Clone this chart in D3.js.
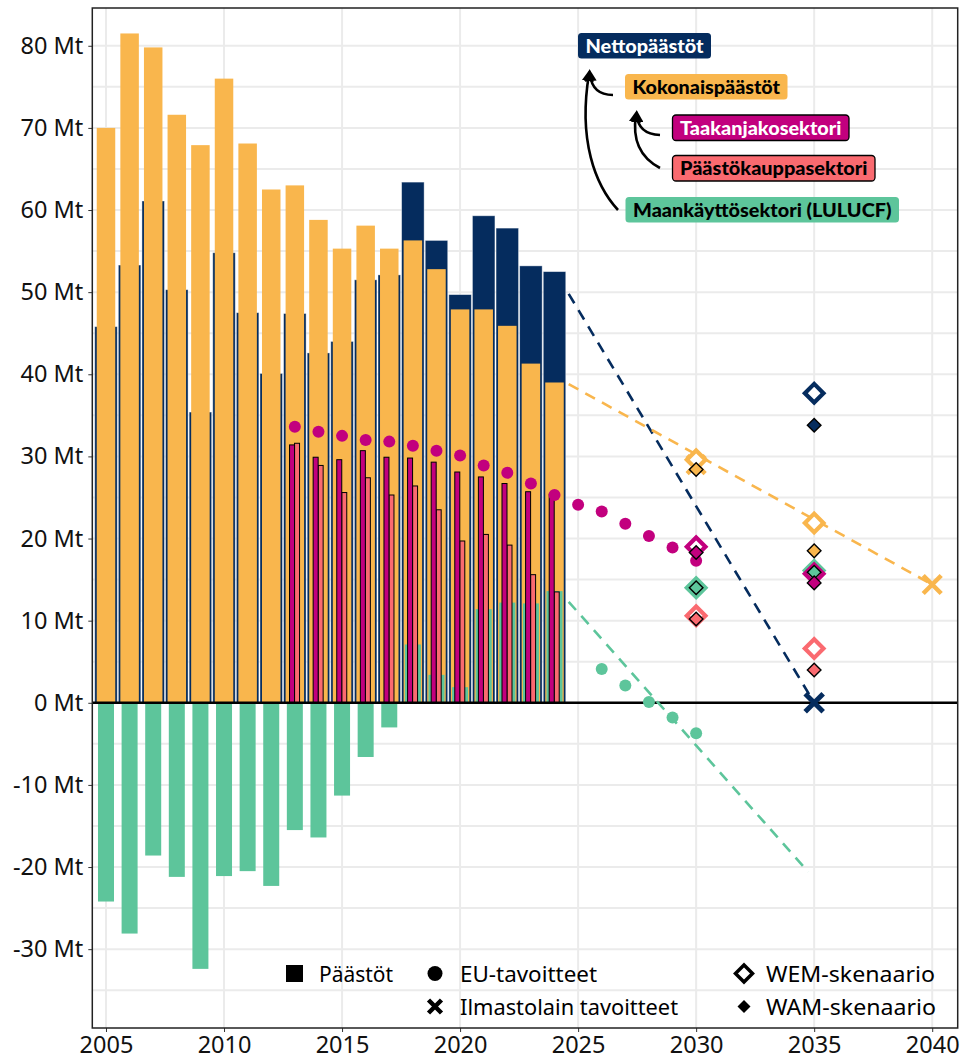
<!DOCTYPE html>
<html>
<head>
<meta charset="utf-8">
<script src="https://cdn.jsdelivr.net/npm/d3@7"></script>
<style>
  body { margin: 0; background: #fff; }
  text { font-family: "Noto Sans", "Open Sans", sans-serif; }
</style>
</head>
<body>
<div id="container"></div>
<script>
const WIDTH = 966;
const HEIGHT = 1060;
const PANEL = { LEFT: 92.3, RIGHT: 957.7, TOP: 8, BOTTOM: 1028 };

const NAVY = '#052c5e';
const ORANGE = '#f9b64d';
const MAGENTA = '#c2007e';
const SALMON = '#fa6a70';
const TEAL = '#5dc59b';

// historia
const YEARS = [2005, 2006, 2007, 2008, 2009, 2010, 2011, 2012, 2013, 2014,
               2015, 2016, 2017, 2018, 2019, 2020, 2021, 2022, 2023, 2024];
const TOTAL = [70.0, 81.5, 79.8, 71.6, 67.9, 76.0, 68.1, 62.5, 63.0, 58.8,
               55.3, 58.1, 55.3, 56.3, 52.8, 47.9, 47.9, 45.9, 41.3, 39.0];
const NET = [45.8, 53.3, 61.1, 50.3, 35.4, 54.8, 47.5, 40.1, 47.4, 42.6,
             44.0, 51.5, 52.1, 63.4, 56.3, 49.7, 59.3, 57.8, 53.2, 52.5];
const LULUCF = [-24.2, -28.1, -18.6, -21.2, -32.4, -21.1, -20.5, -22.3, -15.5, -16.4,
                -11.3, -6.6, -3.0, 7.1, 3.4, 1.9, 11.4, 12.2, 12.1, 13.6];

const SECTOR_YEARS = [2013, 2014, 2015, 2016, 2017, 2018, 2019, 2020, 2021, 2022, 2023, 2024];
const ESD = [31.4, 29.9, 29.6, 30.7, 29.9, 29.8, 29.3, 28.1, 27.5, 26.7, 25.7, 25.4];
const ETS = [31.6, 28.9, 25.6, 27.4, 25.3, 26.4, 23.5, 19.7, 20.5, 19.2, 15.6, 13.5];

// EU-tavoitteet
const ESD_TARGET_YEARS = [2013, 2014, 2015, 2016, 2017, 2018, 2019, 2020, 2021,
                          2022, 2023, 2024, 2025, 2026, 2027, 2028, 2029, 2030];
const ESD_TARGETS = [33.6, 33.0, 32.5, 32.0, 31.8, 31.3, 30.7, 30.1, 28.9,
                     28.0, 26.7, 25.3, 24.1, 23.3, 21.8, 20.3, 18.9, 17.3];
const LULUCF_TARGET_YEARS = [2026, 2027, 2028, 2029, 2030];
const LULUCF_TARGETS = [4.1, 2.1, 0.1, -1.8, -3.7];

// skenaariot
const SCENARIO_YEARS = [2030, 2035];
const WEM_NET = [null, 37.7];
const WEM_TOTAL = [29.6, 21.9];
const WEM_LULUCF = [14.0, 16.1];
const WEM_ESD = [19.0, 15.7];
const WEM_ETS = [10.6, 6.6];
const WAM_NET = [null, 33.8];
const WAM_TOTAL = [28.4, 18.5];
const WAM_LULUCF = [14.0, 15.9];
const WAM_ESD = [18.3, 14.6];
const WAM_ETS = [10.2, 4.0];

// ilmastolain tavoitteet
const LAW_TOTAL_YEARS = [2030, 2040];
const LAW_TOTAL = [29.0, 14.4];
const LAW_NET_YEARS = [2035];
const LAW_NET = [0];

// trendit
const TREND_NET = [[2024.6, 49.8], [2035, 0]];
const TREND_TOTAL = [[2024.6, 38.8], [2040, 14.4]];
const TREND_LULUCF = [[2024.6, 12.3], [2034.75, -20.6]];

const X_TICKS = [2005, 2010, 2015, 2020, 2025, 2030, 2035, 2040];
const Y_TICKS = [-30, -20, -10, 0, 10, 20, 30, 40, 50, 60, 70, 80];
const Y_GRID = [-35, -30, -25, -20, -15, -10, -5, 0, 5, 10, 15, 20, 25, 30, 35,
                40, 45, 50, 55, 60, 65, 70, 75, 80];

const svg = d3.select('#container')
              .append('svg')
                .attr('width', WIDTH)
                .attr('height', HEIGHT);

const xscale = d3.scaleLinear()
                 .domain([2004.42, 2041.08])
                 .range([PANEL.LEFT, PANEL.RIGHT]);
const yscale = d3.scaleLinear()
                 .domain([-39.6, 84.6])
                 .range([PANEL.BOTTOM, PANEL.TOP]);

// ruudukko
const grid = svg.append('g');
grid.selectAll('line.h')
    .data(Y_GRID)
    .enter()
    .append('line')
      .attr('x1', PANEL.LEFT).attr('x2', PANEL.RIGHT)
      .attr('y1', d => yscale(d)).attr('y2', d => yscale(d))
      .attr('stroke', '#ebebeb').attr('stroke-width', 2);
grid.selectAll('line.v')
    .data(X_TICKS)
    .enter()
    .append('line')
      .attr('y1', PANEL.TOP).attr('y2', PANEL.BOTTOM)
      .attr('x1', d => xscale(d)).attr('x2', d => xscale(d))
      .attr('stroke', '#ebebeb').attr('stroke-width', 2);

const hist = YEARS.map((y, i) => ({ year: y, total: TOTAL[i], net: NET[i], lulucf: LULUCF[i] }));
const sectors = SECTOR_YEARS.map((y, i) => ({ year: y, esd: ESD[i], ets: ETS[i] }));

const barRect = (sel, width, key, dx = 0) =>
    sel.attr('x', d => xscale(d.year) - width / 2 + dx)
       .attr('width', width)
       .attr('y', d => yscale(Math.max(0, d[key])))
       .attr('height', d => Math.abs(yscale(d[key]) - yscale(0)));

svg.append('g').selectAll('rect')
   .data(hist).enter().append('rect')
   .call(barRect, 22.5, 'net')
   .attr('fill', NAVY)
   .attr('stroke', '#ffffff').attr('stroke-opacity', 0.5).attr('stroke-width', 0.8);

svg.append('g').selectAll('rect')
   .data(hist).enter().append('rect')
   .call(barRect, 18.5, 'total')
   .attr('fill', ORANGE);

svg.append('g').selectAll('rect')
   .data(hist).enter().append('rect')
   .call(barRect, 16, 'lulucf')
   .attr('fill', TEAL);

svg.append('g').selectAll('rect')
   .data(sectors).enter().append('rect')
   .call(barRect, 5, 'ets', 2.2)
   .attr('fill', SALMON)
   .attr('stroke', '#000').attr('stroke-width', 1);

svg.append('g').selectAll('rect')
   .data(sectors).enter().append('rect')
   .call(barRect, 5, 'esd', -2.8)
   .attr('fill', MAGENTA)
   .attr('stroke', '#000').attr('stroke-width', 1);

// nollaviiva
svg.append('line')
   .attr('x1', PANEL.LEFT).attr('x2', PANEL.RIGHT)
   .attr('y1', yscale(0)).attr('y2', yscale(0))
   .attr('stroke', '#000').attr('stroke-width', 2.5);

// trendit
const line = d3.line().x(d => xscale(d[0])).y(d => yscale(d[1]));
[[TREND_NET, NAVY], [TREND_TOTAL, ORANGE], [TREND_LULUCF, TEAL]].forEach(([pts, col]) => {
    svg.append('path')
       .attr('d', line(pts))
       .attr('fill', 'none')
       .attr('stroke', col)
       .attr('stroke-width', 2.6)
       .attr('stroke-dasharray', '11 8');
});

// EU-tavoitteet
svg.append('g').selectAll('circle')
   .data(ESD_TARGET_YEARS.map((y, i) => [y, ESD_TARGETS[i]]))
   .enter().append('circle')
     .attr('cx', d => xscale(d[0])).attr('cy', d => yscale(d[1]))
     .attr('r', 6).attr('fill', MAGENTA);
svg.append('g').selectAll('circle')
   .data(LULUCF_TARGET_YEARS.map((y, i) => [y, LULUCF_TARGETS[i]]))
   .enter().append('circle')
     .attr('cx', d => xscale(d[0])).attr('cy', d => yscale(d[1]))
     .attr('r', 6).attr('fill', TEAL);

// ilmastolain tavoitteet
const cross = (g, x, y, s, col, w) => {
    g.append('path')
     .attr('d', `M${x - s},${y - s}L${x + s},${y + s}M${x - s},${y + s}L${x + s},${y - s}`)
     .attr('stroke', col).attr('stroke-width', w).attr('fill', 'none');
};
const law = svg.append('g');
LAW_TOTAL_YEARS.forEach((y, i) => cross(law, xscale(y), yscale(LAW_TOTAL[i]), 9, ORANGE, 4.5));
LAW_NET_YEARS.forEach((y, i) => cross(law, xscale(y), yscale(LAW_NET[i]), 9, NAVY, 5));

const diamond = s => `M0,${-s}L${s},0L0,${s}L${-s},0Z`;

const scen = (values, col) => values
    .map((v, i) => ({ year: SCENARIO_YEARS[i], value: v, col }))
    .filter(d => d.value !== null);

const wem = [].concat(scen(WEM_NET, NAVY), scen(WEM_TOTAL, ORANGE), scen(WEM_LULUCF, TEAL),
                      scen(WEM_ESD, MAGENTA), scen(WEM_ETS, SALMON));
const wam = [].concat(scen(WAM_NET, NAVY), scen(WAM_TOTAL, ORANGE), scen(WAM_LULUCF, TEAL),
                      scen(WAM_ESD, MAGENTA), scen(WAM_ETS, SALMON));

svg.append('g').selectAll('path')
   .data(wem).enter().append('path')
     .attr('d', diamond(9.3))
     .attr('transform', d => `translate(${xscale(d.year)},${yscale(d.value)})`)
     .attr('fill', '#fff').attr('stroke', d => d.col).attr('stroke-width', 4.2);

svg.append('g').selectAll('path')
   .data(wam).enter().append('path')
     .attr('d', diamond(6.8))
     .attr('transform', d => `translate(${xscale(d.year)},${yscale(d.value)})`)
     .attr('fill', d => d.col).attr('stroke', '#000').attr('stroke-width', 1.4);

// akselit
const axisLeft = d3.axisLeft(yscale)
                   .tickValues(Y_TICKS)
                   .tickSize(4)
                   .tickPadding(5)
                   .tickFormat(d => `${d} Mt`);
const axisBottom = d3.axisBottom(xscale)
                     .tickValues(X_TICKS)
                     .tickSize(4)
                     .tickPadding(4)
                     .tickFormat(d => `${d}`);

const gy = svg.append('g')
              .attr('transform', `translate(${PANEL.LEFT}, 0)`)
              .call(axisLeft);
const gx = svg.append('g')
              .attr('transform', `translate(0, ${PANEL.BOTTOM})`)
              .call(axisBottom);
[gy, gx].forEach(g => {
    g.select('.domain').remove();
    g.selectAll('text').style('font-size', '23.5px').attr('fill', '#111');
    g.selectAll('line').attr('stroke', '#333');
});

svg.append('rect')
   .attr('x', PANEL.LEFT).attr('y', PANEL.TOP)
   .attr('width', PANEL.RIGHT - PANEL.LEFT)
   .attr('height', PANEL.BOTTOM - PANEL.TOP)
   .attr('fill', 'none').attr('stroke', '#222').attr('stroke-width', 1.5);

// selite
const legend = svg.append('g').style('font-size', '21px');
const legendText = (x, y, txt, len) =>
    legend.append('text')
          .attr('x', x).attr('y', y)
          .attr('textLength', len)
          .attr('lengthAdjust', 'spacingAndGlyphs')
          .text(txt);
legend.append('rect').attr('x', 286).attr('y', 965).attr('width', 17).attr('height', 17).attr('fill', '#000');
legendText(319, 981.5, 'Päästöt', 74);
legend.append('circle').attr('cx', 435).attr('cy', 973.5).attr('r', 7.5).attr('fill', '#000');
legendText(460, 981.5, 'EU-tavoitteet', 137);
cross(legend, 435, 1006.5, 6.5, '#000', 4.5);
legendText(460, 1014.5, 'Ilmastolain tavoitteet', 218);
legend.append('path').attr('d', diamond(8.5)).attr('transform', 'translate(744,973.5)')
      .attr('fill', '#fff').attr('stroke', '#000').attr('stroke-width', 3.5);
legendText(766, 981.5, 'WEM-skenaario', 169);
legend.append('path').attr('d', diamond(6.5)).attr('transform', 'translate(744,1006.5)')
      .attr('fill', '#000');
legendText(766, 1014.5, 'WAM-skenaario', 170);

// nimilaput
const LABELS = [
    { text: 'Nettopäästöt', x: 578, y: 33, w: 133, bg: NAVY, fg: '#fff', border: false },
    { text: 'Kokonaispäästöt', x: 625, y: 74, w: 162.5, bg: ORANGE, fg: '#000', border: false },
    { text: 'Taakanjakosektori', x: 672.5, y: 115, w: 176.5, bg: MAGENTA, fg: '#fff', border: true },
    { text: 'Päästökauppasektori', x: 672.5, y: 155.5, w: 202.5, bg: SALMON, fg: '#000', border: true },
    { text: 'Maankäyttösektori (LULUCF)', x: 625.5, y: 197, w: 273.5, bg: TEAL, fg: '#000', border: false }
];
const labels = svg.append('g');
LABELS.forEach(l => {
    const g = labels.append('g');
    g.append('rect')
     .attr('x', l.x).attr('y', l.y)
     .attr('width', l.w).attr('height', 25.5)
     .attr('rx', 3.5)
     .attr('fill', l.bg)
     .attr('stroke', l.border ? '#000' : 'none')
     .attr('stroke-width', 1.3);
    g.append('text')
     .attr('x', l.x + 7.5).attr('y', l.y + 19.5)
     .attr('fill', l.fg)
     .attr('textLength', l.w - 15)
     .attr('lengthAdjust', 'spacingAndGlyphs')
     .style('font-family', 'Lato, "Open Sans", sans-serif')
     .style('font-weight', 900)
     .style('font-size', '19.5px')
     .text(l.text);
});

const defs = svg.append('defs');
defs.append('marker')
    .attr('id', 'head')
    .attr('viewBox', '0 0 10 10')
    .attr('refX', 6).attr('refY', 5)
    .attr('markerUnits', 'userSpaceOnUse')
    .attr('markerWidth', 12).attr('markerHeight', 12)
    .attr('orient', 'auto')
  .append('path')
    .attr('d', 'M0,0L10,5L0,10Z')
    .attr('fill', '#000');

const ARROWS = [
    'M613,95 Q592,95 590,74',
    'M660,135 Q638,134 637,115',
    'M660,168 C641,158 632,140 636,115',
    'M618,210 C595,185 578,140 589,74'
];
svg.append('g').selectAll('path')
   .data(ARROWS).enter().append('path')
     .attr('d', d => d)
     .attr('fill', 'none')
     .attr('stroke', '#000')
     .attr('stroke-width', 2.6)
     .attr('marker-end', 'url(#head)');
</script>
</body>
</html>
